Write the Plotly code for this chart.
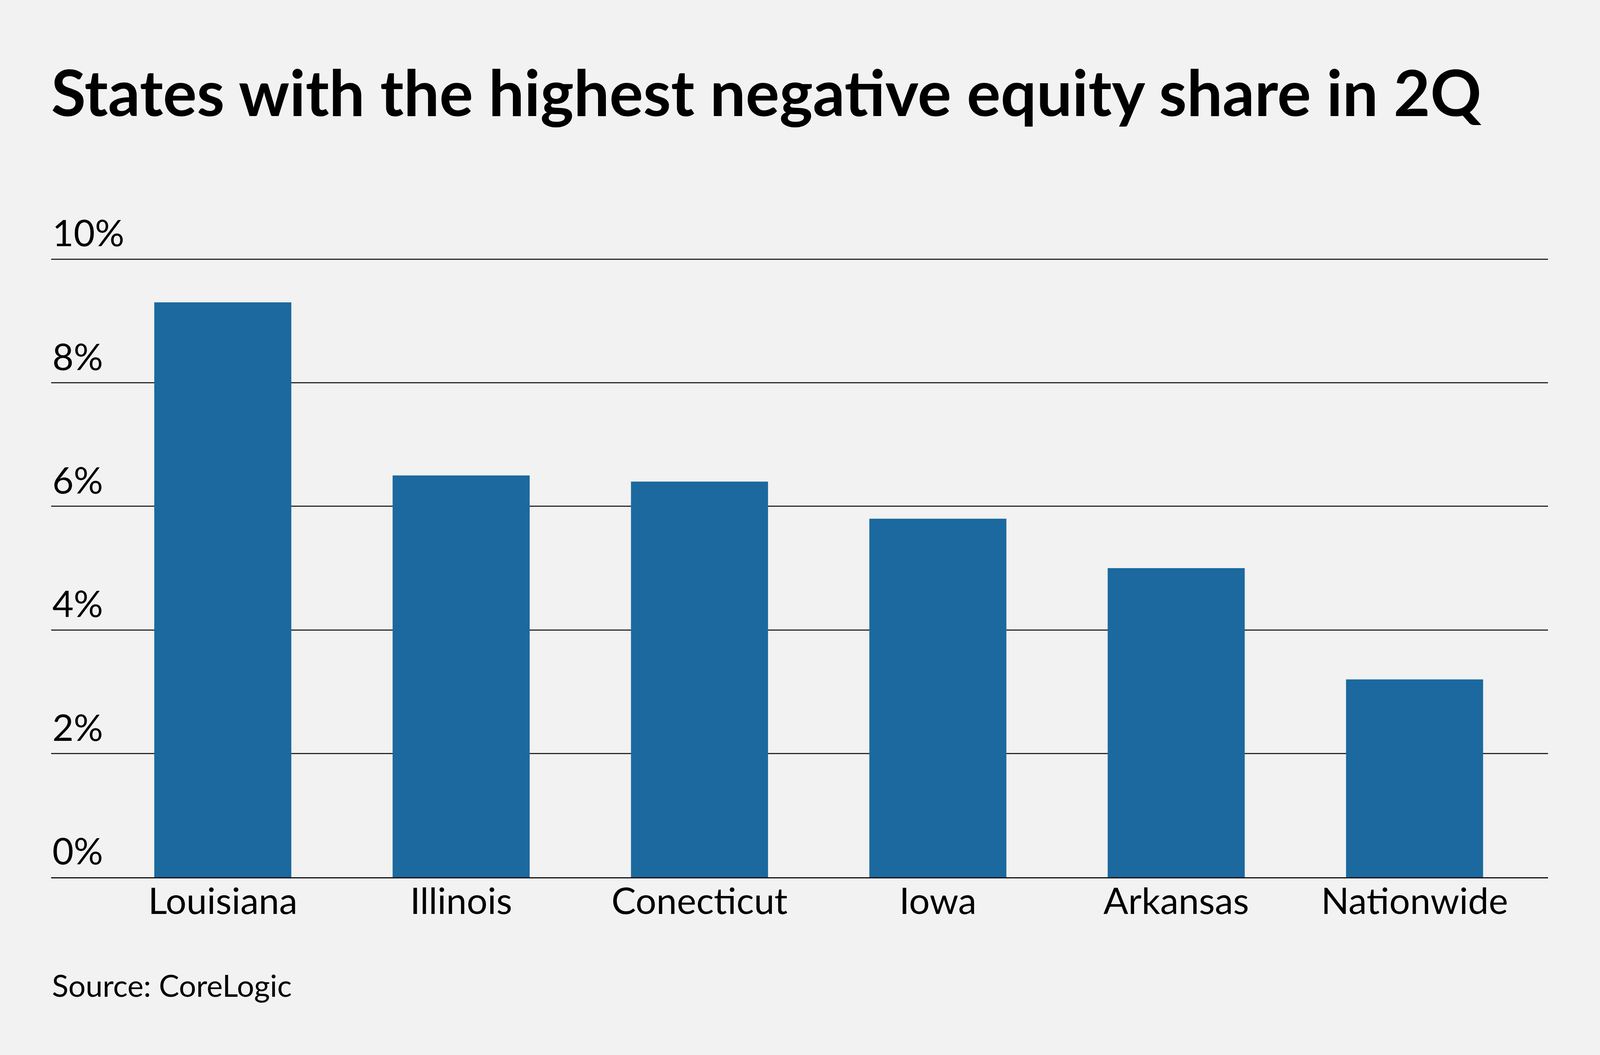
import plotly.graph_objects as go

categories = ["Louisiana", "Illinois", "Conecticut", "Iowa", "Arkansas", "Nationwide"]
values = [9.3, 6.5, 6.4, 5.8, 5.0, 3.2]
tick_vals = [0, 2, 4, 6, 8, 10]
tick_text = ["0%", "2%", "4%", "6%", "8%", "10%"]

# The browser viewport that photographs the page is 4096 px wide x 2700 px tall
W, H = 4096, 2700
ML, MR, MT, MB = 131, 133, 400, 455
Y_TOP = 10 + (663 - MT) / ((2245 - 663) / 10)
FONT = "Lato"
BG = "#f1f2f1"
BAR = "#1b699f"

fig = go.Figure()
fig.add_trace(go.Bar(
    x=categories, y=values, marker=dict(color=BAR, line=dict(width=0)),
    width=0.575, hoverinfo="skip",
))

fig.update_layout(
    width=W, height=H,
    paper_bgcolor=BG, plot_bgcolor=BG,
    margin=dict(l=ML, r=MR, t=MT, b=MB, pad=0),
    showlegend=False,
    font=dict(family=FONT, color="#000000"),
    title=dict(
        text="<b>States with the highest negative equity share in 2Q</b>",
        font=dict(family=FONT, size=162, color="#000000"),
        xref="container", yref="container",
        x=ML / W, xanchor="left",
        y=1 - 240 / H, yanchor="middle",
    ),
    xaxis=dict(
        type="category",
        range=[-0.72, 5.56],
        showgrid=False, zeroline=False,
        showline=True, linecolor="#111111", linewidth=3,
        ticks="", ticklabelstandoff=-22,
        tickfont=dict(family=FONT, size=94, color="#000000"),
        fixedrange=True,
    ),
    yaxis=dict(
        range=[0, Y_TOP],
        tickmode="array", tickvals=tick_vals, ticktext=tick_text,
        showgrid=True, gridcolor="#2a2a2a", gridwidth=3,
        zeroline=False, showline=False, ticks="",
        ticklabelposition="inside top",
        tickfont=dict(family=FONT, size=94, color="#000000"),
        fixedrange=True,
    ),
    annotations=[dict(
        text="Source: CoreLogic", xref="paper", yref="paper",
        x=0, y=-(2521 - 2245) / (H - MT - MB), xanchor="left", yanchor="middle",
        showarrow=False, font=dict(family=FONT, size=78, color="#000000"),
    )],
)

page_style = """
document.body.style.margin = '0';
document.body.style.background = '#f1f2f1';
"""
fig.write_html("out.html", post_script=page_style,
               config={"displayModeBar": False, "staticPlot": True})
